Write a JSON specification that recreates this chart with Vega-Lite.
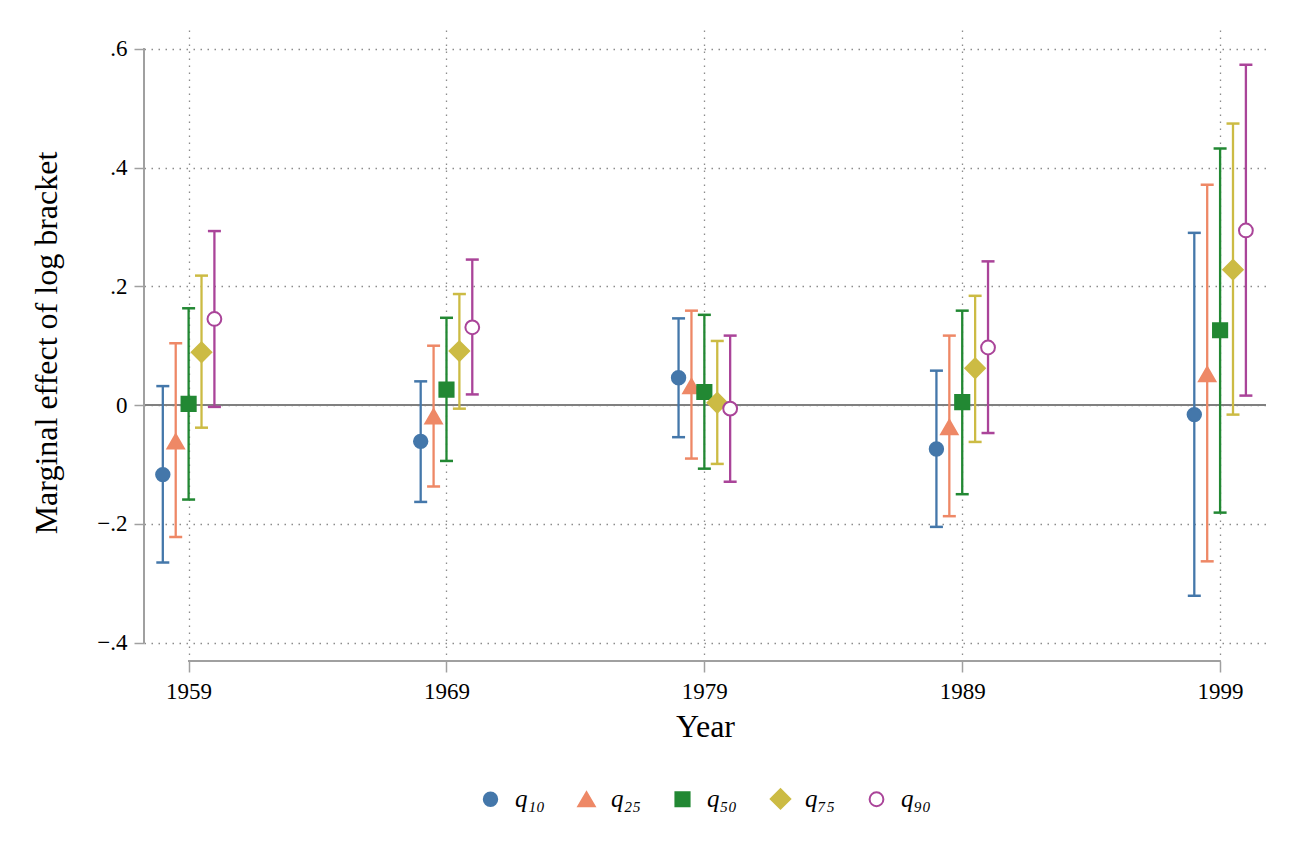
{
  "$schema": "https://vega.github.io/schema/vega-lite/v6.json",
  "width": 1122,
  "height": 625,
  "autosize": {"type": "none"},
  "padding": {"left": 144, "top": 30, "right": 30, "bottom": 210},
  "background": "white",
  "config": {
    "view": {"stroke": null},
    "font": "Liberation Serif",
    "axis": {
      "labelFont": "Liberation Serif",
      "titleFont": "Liberation Serif",
      "labelFontSize": 23,
      "titleFontSize": 32,
      "labelColor": "black",
      "titleColor": "black",
      "titleFontWeight": "normal",
      "domain": false,
      "tickColor": "#a0a0a0",
      "tickWidth": 1.5,
      "gridColor": "#8c8c8c",
      "gridDash": [1.5, 5.5],
      "gridWidth": 1.3
    },
    "legend": {
      "labelFont": "Liberation Serif",
      "labelFontSize": 25,
      "labelFontStyle": "italic",
      "labelColor": "black",
      "symbolStrokeWidth": 2
    }
  },
  "data": {
    "values": [
      {"year": 1959, "q": "q10", "b": -0.117, "lo": -0.265, "hi": 0.032},
      {"year": 1959, "q": "q25", "b": -0.061, "lo": -0.222, "hi": 0.104},
      {"year": 1959, "q": "q50", "b": 0.002, "lo": -0.159, "hi": 0.163},
      {"year": 1959, "q": "q75", "b": 0.089, "lo": -0.038, "hi": 0.218},
      {"year": 1959, "q": "q90", "b": 0.145, "lo": -0.003, "hi": 0.293},
      {"year": 1969, "q": "q10", "b": -0.061, "lo": -0.163, "hi": 0.040},
      {"year": 1969, "q": "q25", "b": -0.019, "lo": -0.137, "hi": 0.100},
      {"year": 1969, "q": "q50", "b": 0.026, "lo": -0.094, "hi": 0.147},
      {"year": 1969, "q": "q75", "b": 0.091, "lo": -0.006, "hi": 0.187},
      {"year": 1969, "q": "q90", "b": 0.131, "lo": 0.018, "hi": 0.245},
      {"year": 1979, "q": "q10", "b": 0.046, "lo": -0.054, "hi": 0.146},
      {"year": 1979, "q": "q25", "b": 0.032, "lo": -0.090, "hi": 0.159},
      {"year": 1979, "q": "q50", "b": 0.022, "lo": -0.107, "hi": 0.152},
      {"year": 1979, "q": "q75", "b": 0.004, "lo": -0.099, "hi": 0.108},
      {"year": 1979, "q": "q90", "b": -0.006, "lo": -0.129, "hi": 0.117},
      {"year": 1989, "q": "q10", "b": -0.074, "lo": -0.205, "hi": 0.058},
      {"year": 1989, "q": "q25", "b": -0.037, "lo": -0.187, "hi": 0.117},
      {"year": 1989, "q": "q50", "b": 0.005, "lo": -0.150, "hi": 0.159},
      {"year": 1989, "q": "q75", "b": 0.062, "lo": -0.062, "hi": 0.184},
      {"year": 1989, "q": "q90", "b": 0.097, "lo": -0.047, "hi": 0.242},
      {"year": 1999, "q": "q10", "b": -0.016, "lo": -0.321, "hi": 0.290},
      {"year": 1999, "q": "q25", "b": 0.052, "lo": -0.263, "hi": 0.371},
      {"year": 1999, "q": "q50", "b": 0.126, "lo": -0.181, "hi": 0.432},
      {"year": 1999, "q": "q75", "b": 0.228, "lo": -0.016, "hi": 0.474},
      {"year": 1999, "q": "q90", "b": 0.294, "lo": 0.016, "hi": 0.573}
    ]
  },
  "encoding": {
    "x": {
      "field": "year",
      "type": "quantitative",
      "title": "Year",
      "scale": {"domain": [1957.27, 2000.78], "nice": false, "zero": false},
      "axis": {
        "values": [1959, 1969, 1979, 1989, 1999],
        "format": "d",
        "grid": true,
        "tickSize": 11,
        "offset": 6,
        "labelPadding": 8,
        "titlePadding": 8
      }
    },
    "y": {
      "field": "b",
      "type": "quantitative",
      "title": "Marginal effect of log bracket",
      "scale": {"domain": [-0.4207, 0.6315], "nice": false, "zero": false},
      "axis": {
        "values": [-0.4, -0.2, 0, 0.2, 0.4, 0.6],
        "labelExpr": "datum.value == 0 ? '0' : replace(format(datum.value, '.1f'), '0.', '.')",
        "grid": true,
        "tickSize": 10,
        "labelPadding": 7,
        "titlePadding": 33
      }
    }
  },
  "layer": [
    {
      "mark": {"type": "rule", "color": "#808080", "strokeWidth": 2},
      "encoding": {
        "x": null,
        "y": {"datum": 0, "type": "quantitative", "title": "Marginal effect of log bracket"}
      }
    },
    {
      "mark": {"type": "rule", "color": "#a0a0a0", "strokeWidth": 1.5},
      "encoding": {
        "x": {"datum": 1957.27, "type": "quantitative", "title": "Year"},
        "y": {"datum": -0.4, "type": "quantitative", "title": "Marginal effect of log bracket"},
        "y2": {"datum": 0.6}
      }
    },
    {
      "mark": {"type": "rule", "color": "#a0a0a0", "strokeWidth": 1.5},
      "encoding": {
        "x": {"datum": 1959, "type": "quantitative", "title": "Year"},
        "x2": {"datum": 1999},
        "y": {"datum": -0.4308, "type": "quantitative", "title": "Marginal effect of log bracket"}
      }
    },
    {
      "mark": {
        "type": "rule",
        "strokeWidth": 2.3,
        "xOffset": {"expr": "(indexof(['q10','q25','q50','q75','q90'], datum.q) - 2) * 12.9"}
      },
      "encoding": {
        "y": {"field": "lo", "type": "quantitative", "title": "Marginal effect of log bracket"},
        "y2": {"field": "hi"},
        "color": {
          "field": "q",
          "type": "nominal",
          "scale": {"range": ["#4477aa", "#ee8866", "#228833", "#ccbb44", "#aa4499"]},
          "legend": null
        }
      }
    },
    {
      "mark": {
        "type": "tick",
        "orient": "horizontal",
        "size": 13,
        "thickness": 2.5,
        "opacity": 1,
        "xOffset": {"expr": "(indexof(['q10','q25','q50','q75','q90'], datum.q) - 2) * 12.9"}
      },
      "encoding": {
        "y": {"field": "lo", "type": "quantitative", "title": "Marginal effect of log bracket"},
        "color": {"field": "q", "type": "nominal", "legend": null}
      }
    },
    {
      "mark": {
        "type": "tick",
        "orient": "horizontal",
        "size": 13,
        "thickness": 2.5,
        "opacity": 1,
        "xOffset": {"expr": "(indexof(['q10','q25','q50','q75','q90'], datum.q) - 2) * 12.9"}
      },
      "encoding": {
        "y": {"field": "hi", "type": "quantitative", "title": "Marginal effect of log bracket"},
        "color": {"field": "q", "type": "nominal", "legend": null}
      }
    },
    {
      "mark": {
        "type": "point",
        "opacity": 1,
        "strokeWidth": 2,
        "xOffset": {"expr": "(indexof(['q10','q25','q50','q75','q90'], datum.q) - 2) * 12.9"}
      },
      "encoding": {
        "stroke": {
          "field": "q",
          "type": "nominal",
          "title": null,
          "scale": {"domain": ["q10", "q25", "q50", "q75", "q90"], "range": ["#4477aa", "#ee8866", "#228833", "#ccbb44", "#aa4499"]},
          "legend": {
            "orient": "none",
            "direction": "horizontal",
            "legendX": 334,
            "legendY": 756,
            "labelOffset": 12,
            "columnPadding": 29,
            "labelExpr": "{'q10': 'q₁₀', 'q25': 'q₂₅', 'q50': 'q₅₀', 'q75': 'q₇₅', 'q90': 'q₉₀'}[datum.label]"
          }
        },
        "fill": {
          "field": "q",
          "type": "nominal",
          "title": null,
          "scale": {"domain": ["q10", "q25", "q50", "q75", "q90"], "range": ["#4477aa", "#ee8866", "#228833", "#ccbb44", "#ffffff"]}
        },
        "shape": {
          "field": "q",
          "type": "nominal",
          "title": null,
          "scale": {"domain": ["q10", "q25", "q50", "q75", "q90"], "range": ["circle", "triangle-up", "square", "diamond", "circle"]}
        },
        "size": {
          "field": "q",
          "type": "nominal",
          "title": null,
          "scale": {"type": "ordinal", "domain": ["q10", "q25", "q50", "q75", "q90"], "range": [180, 270, 200, 380, 190]}
        }
      }
    }
  ]
}
